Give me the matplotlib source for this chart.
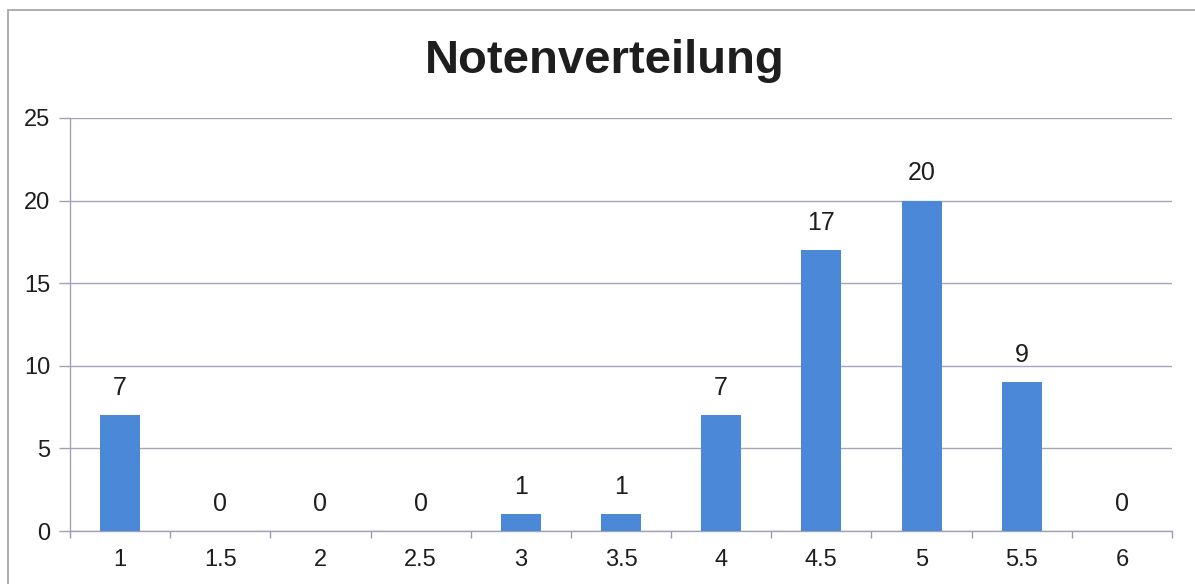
import matplotlib
matplotlib.use("Agg")
import matplotlib.pyplot as plt
from matplotlib.patches import Rectangle
from matplotlib.ticker import FixedLocator

categories = ["1", "1.5", "2", "2.5", "3", "3.5", "4", "4.5", "5", "5.5", "6"]
counts = [7, 0, 0, 0, 1, 1, 7, 17, 20, 9, 0]
y_ticks = [0, 5, 10, 15, 20, 25]
title = "Notenverteilung"

plt.rcParams['font.family'] = ['Liberation Sans', 'DejaVu Sans']

W, H = 1195, 584
fig = plt.figure(figsize=(W / 100, H / 100), dpi=100)
fig.patch.set_facecolor('white')

# outer chart frame
fig.patches.append(Rectangle((8 / W, -0.05), 1.2, 1 - 10 / H + 0.05,
                             transform=fig.transFigure, fill=False,
                             edgecolor='#a8a8a8', linewidth=1.3))

ax = fig.add_axes([70 / W, 1 - 531 / H, (1172 - 70) / W, (531 - 118) / H])
x = list(range(len(categories)))
bars = ax.bar(x, counts, width=0.4, color='#4b88d7', zorder=3)

ax.set_xlim(-0.5, len(categories) - 0.5)
ax.set_ylim(0, 25)
ax.set_yticks(y_ticks)
ax.set_yticklabels([str(v) for v in y_ticks], fontsize=17, color='#1e1e1e')
ax.set_xticks(x)
ax.set_xticklabels(categories, fontsize=17, color='#1e1e1e')
ax.xaxis.set_minor_locator(FixedLocator([i + 0.5 for i in range(-1, len(categories))]))
ax.tick_params(axis='x', which='major', length=0, pad=13)
ax.tick_params(axis='x', which='minor', length=5, width=1, color='#9a9ab0', direction='out')
ax.tick_params(axis='y', length=8, width=1, color='#a0a0b8', pad=6)

ax.grid(axis='y', color='#a4a4bc', linewidth=1, zorder=0)
for side in ['top', 'right']:
    ax.spines[side].set_visible(False)
for side in ['left', 'bottom']:
    ax.spines[side].set_color('#a0a0b8')
    ax.spines[side].set_linewidth(1)

for xi, v in zip(x, counts):
    ax.annotate(str(v), (xi, v), xytext=(0, 11), textcoords='offset points',
                ha='center', va='bottom', fontsize=18, color='#1e1e1e')

fig.text((425 + 785) / 2 / W, 1 - 61 / H, title, ha='center', va='center',
         fontsize=34, fontweight='bold', color='#1e1e1e')

fig.savefig('out.png', dpi=100, facecolor='white')
